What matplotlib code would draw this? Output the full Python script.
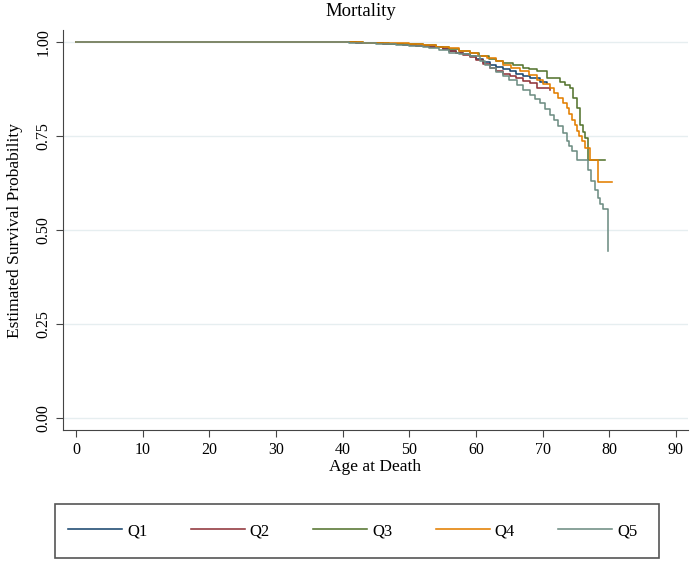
import matplotlib
matplotlib.use("Agg")
import matplotlib.pyplot as plt
from matplotlib.patches import Rectangle

plt.rcParams['font.family'] = ['Liberation Serif', 'DejaVu Serif']

# Kaplan-Meier step data
q1_age = [0, 38, 42, 46, 49, 51, 53, 55, 56, 57, 58, 59.1, 60, 61, 62.1, 63, 64, 65.1, 66, 67, 68.1, 69.6, 70.6]
q1_surv = [1.0, 0.999, 0.997, 0.995, 0.993, 0.990, 0.986, 0.981, 0.977, 0.972, 0.967, 0.962, 0.955, 0.948, 0.940, 0.934, 0.928, 0.922, 0.916, 0.910, 0.904, 0.895, 0.892]

q2_age = [0, 38, 42, 46, 49, 51, 53, 55, 56, 57, 58, 59.1, 60, 61, 62.1, 63, 64, 65.1, 66, 67, 68.1, 69.1, 71.1]
q2_surv = [1.0, 0.999, 0.997, 0.995, 0.993, 0.990, 0.986, 0.981, 0.976, 0.971, 0.966, 0.960, 0.951, 0.941, 0.931, 0.924, 0.916, 0.909, 0.903, 0.897, 0.891, 0.878, 0.873]

q3_age = [0, 39, 43, 47, 50, 52, 54, 56, 57.5, 59.1, 60.5, 62, 63, 64.1, 65.5, 67.1, 68, 69.1, 70.6, 72.6, 73.4, 74.1, 74.6, 75.1, 75.6, 76.0, 76.4, 76.8, 79.4]
q3_surv = [1.0, 0.999, 0.998, 0.996, 0.994, 0.991, 0.987, 0.982, 0.977, 0.971, 0.964, 0.956, 0.950, 0.944, 0.938, 0.931, 0.927, 0.922, 0.904, 0.895, 0.887, 0.878, 0.851, 0.824, 0.780, 0.762, 0.745, 0.687, 0.687]

q4_age = [0, 39, 43, 47, 50, 52, 54, 56, 57.5, 59.1, 60.3, 61.6, 63, 64.1, 65.3, 66.6, 68, 69.1, 70.1, 71.1, 71.7, 72.3, 73.0, 73.6, 74.0, 74.4, 74.8, 75.1, 75.5, 75.9, 76.4, 77.1, 78.3, 80.4]
q4_surv = [1.0, 0.999, 0.998, 0.997, 0.995, 0.992, 0.988, 0.983, 0.977, 0.971, 0.964, 0.957, 0.949, 0.940, 0.931, 0.922, 0.911, 0.900, 0.889, 0.878, 0.865, 0.851, 0.838, 0.824, 0.808, 0.793, 0.778, 0.763, 0.750, 0.737, 0.718, 0.687, 0.628, 0.628]

q5_age = [0, 37, 41, 45, 48, 50, 52, 53, 54.5, 56, 57.5, 59.1, 60.6, 61.3, 62.1, 63, 64.1, 65, 66.1, 67, 68.1, 68.8, 69.6, 70.3, 71.1, 71.7, 72.3, 73.0, 73.6, 74.0, 74.4, 75.1, 76.8, 77.3, 77.8, 78.3, 78.6, 79.0, 79.6, 79.8]
q5_surv = [1.0, 0.999, 0.997, 0.995, 0.992, 0.990, 0.986, 0.983, 0.978, 0.972, 0.967, 0.962, 0.949, 0.940, 0.931, 0.920, 0.909, 0.898, 0.886, 0.873, 0.860, 0.849, 0.838, 0.822, 0.807, 0.792, 0.777, 0.757, 0.737, 0.723, 0.710, 0.687, 0.660, 0.630, 0.606, 0.585, 0.570, 0.556, 0.556, 0.444]

series = [
    ("Q1", q1_age, q1_surv, "#1a476f"),
    ("Q2", q2_age, q2_surv, "#90353b"),
    ("Q3", q3_age, q3_surv, "#55752f"),
    ("Q4", q4_age, q4_surv, "#e37e00"),
    ("Q5", q5_age, q5_surv, "#6e8e84"),
]

x_ticks = [0, 10, 20, 30, 40, 50, 60, 70, 80, 90]
y_ticks = [0.0, 0.25, 0.5, 0.75, 1.0]
y_labels = ["0.00", "0.25", "0.50", "0.75", "1.00"]

fig = plt.figure(figsize=(6.93, 5.62), dpi=100)
ax = fig.add_axes([63/693, 1-430/562, (688-63)/693, (430-30)/562])

for name, ages, surv, col in series:
    ax.step(ages, surv, where='post', color=col, lw=1.15, label=name)

ax.set_xlim(-1.95, 91.8)
ax.set_ylim(-0.032, 1.032)
ax.set_xticks(x_ticks)
ax.set_yticks(y_ticks)
ax.set_yticklabels(y_labels, rotation=90, va='center')
ax.tick_params(labelsize=11.5, color='#444444', length=5)
ax.grid(axis='y', color='#e6eef0', lw=1)
ax.set_axisbelow(True)
for s in ['top', 'right']:
    ax.spines[s].set_visible(False)
for s in ['left', 'bottom']:
    ax.spines[s].set_color('#444444')
ax.set_xlabel("Age at Death", fontsize=12.5, labelpad=1)
ax.set_ylabel("Estimated Survival Probability", fontsize=12.5, labelpad=9)
fig.text(361/693, 1 - 12/562, "Mortality", ha='center', va='center', fontsize=13.5)

# legend frame and entries
fig.patches.append(Rectangle((55/693, 1-558/562), (659-55)/693, (558-504)/562,
                             transform=fig.transFigure, fill=False,
                             edgecolor='#555555', lw=1.2))
handles, labels = ax.get_legend_handles_labels()
leg = fig.legend(handles, labels, loc='center left',
                 bbox_to_anchor=(68/693, 1-531/562),
                 ncol=5, handlelength=3.24, handletextpad=0.3, columnspacing=2.6,
                 fontsize=12, frameon=False, borderpad=0, borderaxespad=0)

fig.savefig("out.png", dpi=100)
